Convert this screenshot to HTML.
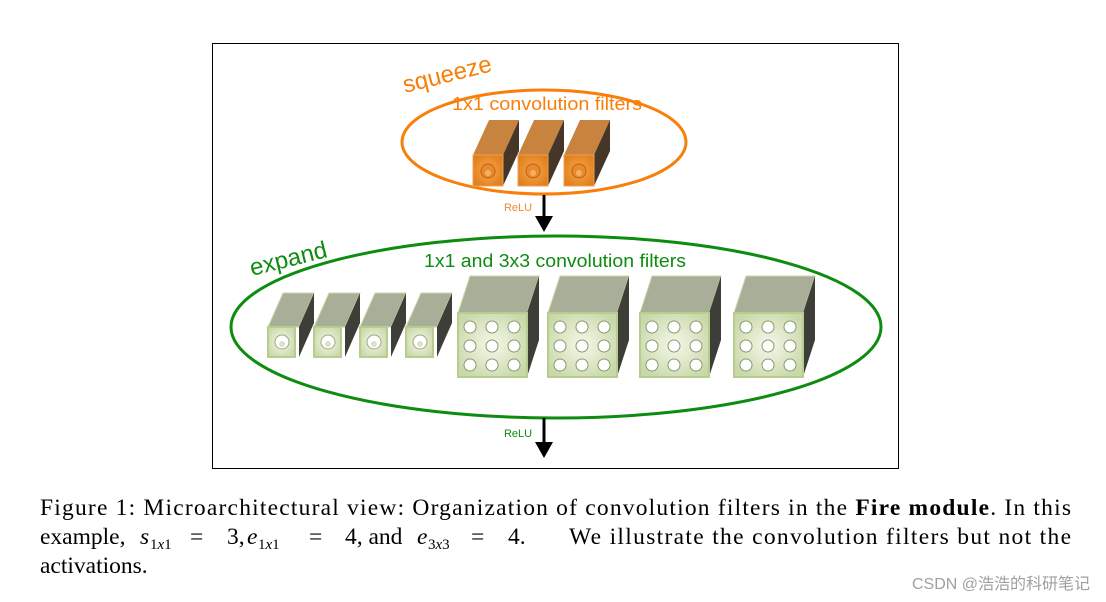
<!DOCTYPE html>
<html><head><meta charset="utf-8"><style>
html,body{margin:0;padding:0;background:#fff;}
svg{display:block;}
</style></head><body>
<svg width="1106" height="602" viewBox="0 0 1106 602" xmlns="http://www.w3.org/2000/svg">
<defs>
<radialGradient id="og" cx="0.5" cy="0.5" r="0.6"><stop offset="0" stop-color="#f7a94a"/><stop offset="1" stop-color="#e07d1c"/></radialGradient>
<radialGradient id="gg" cx="0.5" cy="0.5" r="0.6"><stop offset="0" stop-color="#f4f8ea"/><stop offset="1" stop-color="#c8d8a8"/></radialGradient>
</defs>
<rect x="212.5" y="43.5" width="686" height="425" fill="#fff" stroke="#000" stroke-width="1"/>

<!-- squeeze -->
<ellipse cx="544" cy="142" rx="142" ry="52" fill="none" stroke="#f77f0a" stroke-width="3"/>
<text x="405" y="93" font-family="'Liberation Sans',sans-serif" font-size="24" fill="#f77f0a" transform="rotate(-14 405 93)">squeeze</text>
<text x="547" y="110" text-anchor="middle" font-family="'Liberation Sans',sans-serif" font-size="18" textLength="190" lengthAdjust="spacingAndGlyphs" fill="#f77f0a">1x1 convolution filters</text>
<g id="oc">
<polygon points="473,155 489,120 519,120 503,155" fill="#c8843f"/>
<polygon points="503,155 519,120 519,151 503,186" fill="#453628"/>
<rect x="473" y="155" width="30" height="31" fill="url(#og)" stroke="#f0a050"/>
<circle cx="488" cy="171" r="7" fill="#e88a30" stroke="#c06010"/>
<circle cx="488" cy="173" r="3" fill="#f6b060"/>
</g>
<use href="#oc" x="45"/>
<use href="#oc" x="91"/>
<text x="518" y="211" text-anchor="middle" font-family="'Liberation Sans',sans-serif" font-size="11" fill="#f08a30">ReLU</text>
<line x1="544" y1="195" x2="544" y2="218" stroke="#000" stroke-width="3"/>
<polygon points="535,216 553,216 544,232" fill="#000"/>

<!-- expand -->
<ellipse cx="556" cy="327" rx="325" ry="91" fill="none" stroke="#0d8c10" stroke-width="3"/>
<text x="252" y="276" font-family="'Liberation Sans',sans-serif" font-size="24" fill="#0d8c10" transform="rotate(-14 252 276)">expand</text>
<text x="555" y="267" text-anchor="middle" font-family="'Liberation Sans',sans-serif" font-size="18" textLength="262" lengthAdjust="spacingAndGlyphs" fill="#0d8c10">1x1 and 3x3 convolution filters</text>
<g id="sc">
<polygon points="268,327 283,293 314,293 299,327" fill="#a8ae98" stroke="#c8d8a8"/>
<polygon points="299,327 314,293 314,323 299,357" fill="#3e3e38"/>
<rect x="268" y="327" width="27" height="30" fill="url(#gg)" stroke="#b8cc90" stroke-width="2"/>
<circle cx="282" cy="342" r="7" fill="#fff" stroke="#9aaa80"/>
<circle cx="282" cy="344" r="3" fill="#d8e4c8"/>
</g>
<use href="#sc" x="46"/>
<use href="#sc" x="92"/>
<use href="#sc" x="138"/>
<g id="bc">
<polygon points="458,313 470,276 539,276 527,313" fill="#a8ae98" stroke="#c8d8a8"/>
<polygon points="527,313 539,276 539,340 527,377" fill="#3e3e38"/>
<rect x="458" y="313" width="69" height="64" fill="url(#gg)" stroke="#b8cc90" stroke-width="2"/>
<g fill="#fff" stroke="#8a9a70">
<circle cx="470" cy="327" r="6"/><circle cx="492" cy="327" r="6"/><circle cx="514" cy="327" r="6"/>
<circle cx="470" cy="346" r="6"/><circle cx="492" cy="346" r="6"/><circle cx="514" cy="346" r="6"/>
<circle cx="470" cy="365" r="6"/><circle cx="492" cy="365" r="6"/><circle cx="514" cy="365" r="6"/>
</g>
</g>
<use href="#bc" x="90"/>
<use href="#bc" x="182"/>
<use href="#bc" x="276"/>
<text x="518" y="437" text-anchor="middle" font-family="'Liberation Sans',sans-serif" font-size="11" fill="#0d8c10">ReLU</text>
<line x1="544" y1="418" x2="544" y2="444" stroke="#000" stroke-width="3"/>
<polygon points="535,442 553,442 544,458" fill="#000"/>

<!-- caption -->
<g font-family="'Liberation Serif',serif" font-size="23.5" fill="#000">
<text x="40" y="515" textLength="1031" lengthAdjust="spacing">Figure 1: Microarchitectural view: Organization of convolution filters in the <tspan font-weight="bold">Fire module</tspan>. In this</text>
<text x="40" y="544">example,</text>
<text x="140" y="544" font-style="italic">s</text><text x="150" y="549" font-size="15">1<tspan font-style="italic">x</tspan>1</text>
<text x="190" y="544">=</text><text x="227" y="544">3,</text>
<text x="247" y="544" font-style="italic">e</text><text x="258" y="549" font-size="15">1<tspan font-style="italic">x</tspan>1</text>
<text x="309" y="544">=</text><text x="345" y="544">4, and</text>
<text x="417" y="544" font-style="italic">e</text><text x="428" y="549" font-size="15">3<tspan font-style="italic">x</tspan>3</text>
<text x="471" y="544">=</text><text x="508" y="544">4.</text>
<text x="569" y="544" textLength="502" lengthAdjust="spacing">We illustrate the convolution filters but not the</text>
<text x="40" y="573">activations.</text>
</g>
<text x="1090" y="589" text-anchor="end" font-family="'Liberation Sans','Noto Sans CJK SC',sans-serif" font-size="16" fill="#a0a0a0">CSDN @浩浩的科研笔记</text>
</svg>
</body></html>
